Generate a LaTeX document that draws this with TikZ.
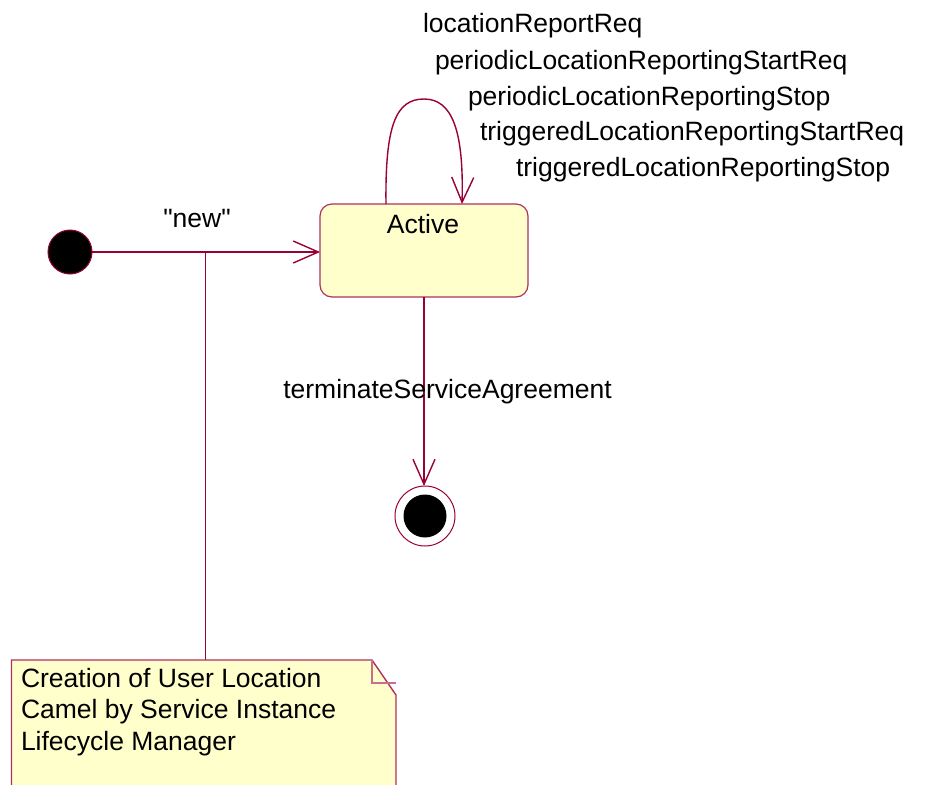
\documentclass[tikz,border=0pt]{standalone}
\usepackage{fontspec}
\setmainfont{Liberation Sans}[Ligatures=TeXOff]
\usetikzlibrary{arrows.meta}
\definecolor{lc}{RGB}{153,0,51}
\definecolor{bc}{RGB}{176,48,96}
\definecolor{fc}{RGB}{255,255,204}
\begin{document}
\begin{tikzpicture}[x=1pt,y=-1pt,
  every node/.style={inner sep=0pt,outer sep=0pt,font=\fontsize{26.5}{31.5}\selectfont},
  conn/.style={draw=lc,line width=1.4pt},
  openarrow/.style={-{Straight Barb[length=25pt,width=22pt,line width=1.4pt]}},
  txt/.style={text=black}]
\useasboundingbox (0,0) rectangle (927,785);
% initial state
\node (init) [circle,draw=lc,line width=1pt,fill=black,minimum size=44pt] at (70,252) {};
% active state
\node (active) [rectangle,rounded corners=12pt,draw=bc,line width=1.2pt,fill=fc,minimum width=208pt,minimum height=93pt] at (424,250.5) {};
\node (activelbl) [txt,anchor=base] at (423,233) {Active};
% final state
\node (final) [circle,draw=lc,line width=1pt,fill=white,minimum size=60pt] at (425,516) {};
\node (finalin) [circle,fill=black,minimum size=43pt] at (425,516) {};
% transitions
\coordinate (nj) at (205,252);
\draw[conn,openarrow] (init) -- (active.west |- init);
\node (newlbl) [txt,anchor=base] at (197,227) {"new"};
\coordinate (loopa) at (386,204);
\coordinate (looptop) at (424,99);
\coordinate (loopb) at (462,204);
\draw[conn,openarrow] (loopa) .. controls (385,125) and (396,99) .. (looptop) .. controls (452,99) and (464,130) .. (loopb);
\draw[conn,openarrow] (active.south -| 424,0) -- (final.north -| 424,0);
\node (termlbl) [txt,anchor=base] at (447.5,398) {terminateServiceAgreement};
% loop labels
\node (l1) [txt,anchor=base west] at (423,32) {locationReportReq};
\node (l2) [txt,anchor=base west] at (435,69) {periodicLocationReportingStartReq};
\node (l3) [txt,anchor=base west] at (468,105) {periodicLocationReportingStop};
\node (l4) [txt,anchor=base west] at (480,140) {triggeredLocationReportingStartReq};
\node (l5) [txt,anchor=base west] at (516,176) {triggeredLocationReportingStop};
% note
\coordinate (notetop) at (205,660);
\draw[draw=lc,line width=1pt] (nj) -- (notetop);
\fill[fc] (11.5,660) -- (372,660) -- (396,695) -- (396,800) -- (11.5,800) -- cycle;
\draw[draw=bc,line width=1.4pt] (11.5,800) -- (11.5,660) -- (372,660) -- (396,695) -- (396,800);
\draw[draw=bc!70,line width=1.2pt] (372,660) -- (372,683) -- (396,683);
\node (n1) [txt,anchor=base west] at (21,687) {Creation of User Location};
\node (n2) [txt,anchor=base west] at (21,718) {Camel by Service Instance};
\node (n3) [txt,anchor=base west] at (21,750) {Lifecycle Manager};
\end{tikzpicture}
\end{document}
